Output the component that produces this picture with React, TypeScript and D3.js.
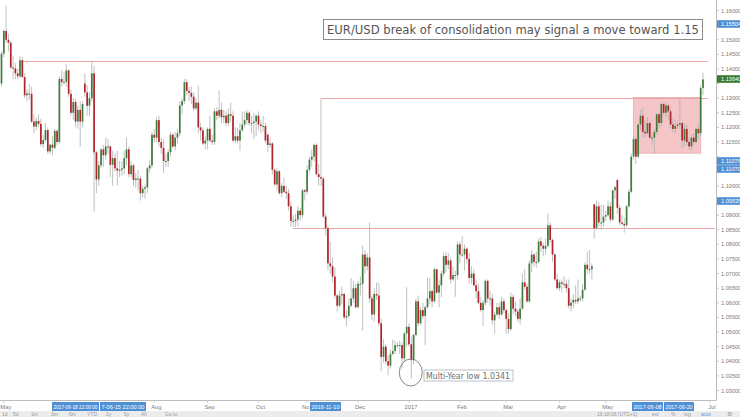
import React from 'react';
import * as d3 from 'd3';

// ---- data (daily EUR/USD candles, 2016-04-29 .. 2017-06-28, weekdays) ----
const startDate = new Date(2016, 3, 29);

const opens = [
  1.1350,
  1.1452,1.1530,1.1500,1.1490,1.1405,1.1402,1.1385,1.1375,1.1430,1.1372,1.1310,1.1316,1.1315,1.1220,1.1203,1.1222,1.1212,1.1143,1.1157,1.1191,1.1118,1.1141,
  1.1130,1.1188,1.1150,1.1366,1.1355,1.1356,1.1395,1.1315,1.1250,1.1287,1.1220,1.1260,1.1220,1.1350,1.1320,1.1274,1.1300,1.1385,1.1115,1.1022,1.1070,1.1125,
  1.1105,1.1135,1.1135,1.1072,1.1095,1.1060,1.1052,1.1055,1.1060,1.1095,1.1125,1.1040,1.1070,1.1020,1.1025,1.1025,1.0975,1.0990,1.0995,1.1060,1.1070,
  1.1175,1.1165,1.1225,1.1150,1.1130,1.1085,1.1085,1.1115,1.1175,1.1135,1.1165,1.1180,1.1275,1.1290,1.1355,1.1325,1.1318,1.1305,1.1265,1.1285,1.1200,1.1190,1.1145,
  1.1155,1.1195,1.1155,1.1150,1.1255,1.1240,1.1260,1.1235,1.1240,1.1215,1.1245,1.1240,1.1155,1.1170,1.1155,1.1190,1.1210,1.1225,1.1250,1.1215,1.1215,1.1220,
  1.1240,1.1210,1.1205,1.1205,1.1175,1.1140,1.1145,1.1055,1.1005,1.1050,1.0975,1.1000,1.0980,1.0975,1.0930,1.0880,1.0880,1.0885,1.0915,1.0900,1.0985,
  1.0980,1.1055,1.1090,1.1100,1.1140,1.1040,1.1030,1.1025,1.0895,1.0855,1.0735,1.0725,1.0690,1.0625,1.0590,1.0625,1.0630,1.0550,1.0555,1.0590,1.0615,1.0650,
  1.0585,1.0665,1.0665,1.0765,1.0725,1.0755,1.0615,1.0560,1.0630,1.0625,1.0530,1.0415,1.0450,1.0400,1.0385,1.0425,1.0435,1.0455,1.0455,1.0455,1.0410,1.0495,
  1.0518,1.0458,1.0405,1.0490,1.0605,1.0530,1.0575,1.0555,1.0585,1.0615,1.0640,1.0605,1.0715,1.0635,1.0660,1.0700,1.0760,1.0730,1.0745,1.0680,1.0695,1.0695,
  1.0800,1.0765,1.0765,1.0785,1.0750,1.0685,1.0700,1.0660,1.0640,1.0600,1.0575,1.0600,1.0675,1.0615,1.0615,1.0540,1.0560,1.0585,1.0560,1.0605,
  1.0575,1.0545,1.0510,1.0620,1.0580,1.0570,1.0545,1.0580,1.0670,1.0655,1.0605,1.0735,1.0765,1.0740,1.0740,1.0810,1.0795,1.0785,1.0795,1.0865,1.0815,1.0765,1.0680,
  1.0650,1.0670,1.0665,1.0665,1.0650,1.0590,1.0600,1.0610,1.0605,1.0615,1.0615,1.0645,1.0730,1.0715,1.0715,1.0937,1.0855,1.0930,1.0875,1.0875,
  1.0895,1.0900,1.0930,1.0885,1.0985,1.1020,1.0925,1.0875,1.0870,1.0865,1.0930,1.0980,1.1100,1.1160,1.1100,1.1210,1.1240,1.1185,1.1180,1.1215,1.1165,1.1165,1.1185,
  1.1245,1.1215,1.1280,1.1250,1.1275,1.1255,1.1210,1.1195,1.1205,1.1210,1.1215,1.1155,1.1195,1.1150,1.1135,1.1165,1.1150,1.1195,1.1180,1.1335,
];

const highs = [
  1.1460,
  1.1536,1.1616,1.1520,1.1495,1.1445,1.1420,1.1400,1.1445,1.1440,1.1385,1.1330,1.1350,1.1340,1.1245,1.1235,1.1245,1.1230,1.1175,1.1215,1.1200,1.1145,1.1170,
  1.1195,1.1195,1.1374,1.1395,1.1390,1.1416,1.1400,1.1330,1.1300,1.1298,1.1275,1.1290,1.1290,1.1385,1.1345,1.1320,1.1427,1.1410,1.1120,1.1085,1.1130,1.1140,
  1.1165,1.1160,1.1140,1.1120,1.1110,1.1120,1.1085,1.1085,1.1120,1.1165,1.1135,1.1085,1.1075,1.1045,1.1055,1.1035,1.1000,1.1005,1.1065,1.1090,1.1185,
  1.1195,1.1235,1.1240,1.1165,1.1160,1.1110,1.1125,1.1185,1.1180,1.1185,1.1195,1.1290,1.1300,1.1366,1.1365,1.1340,1.1340,1.1320,1.1300,1.1342,1.1215,1.1200,1.1170,
  1.1200,1.1240,1.1175,1.1265,1.1270,1.1327,1.1285,1.1260,1.1255,1.1265,1.1285,1.1255,1.1200,1.1200,1.1215,1.1255,1.1255,1.1260,1.1255,1.1240,1.1250,1.1245,
  1.1255,1.1225,1.1240,1.1215,1.1180,1.1165,1.1150,1.1060,1.1060,1.1055,1.1010,1.1030,1.1000,1.0990,1.0945,1.0900,1.0905,1.0930,1.0925,1.0990,1.0990,
  1.1070,1.1100,1.1125,1.1145,1.1145,1.1075,1.1299,1.1030,1.0905,1.0865,1.0810,1.0755,1.0720,1.0630,1.0640,1.0655,1.0635,1.0575,1.0615,1.0685,1.0675,1.0665,
  1.0675,1.0690,1.0796,1.0780,1.0770,1.0875,1.0625,1.0650,1.0670,1.0668,1.0545,1.0475,1.0460,1.0420,1.0440,1.0475,1.0470,1.0465,1.0470,1.0465,1.0500,1.0653,
  1.0530,1.0485,1.0495,1.0615,1.0625,1.0585,1.0600,1.0590,1.0685,1.0685,1.0645,1.0720,1.0715,1.0680,1.0710,1.0775,1.0775,1.0770,1.0755,1.0725,1.0710,1.0810,
  1.0810,1.0829,1.0800,1.0790,1.0770,1.0725,1.0715,1.0680,1.0665,1.0620,1.0610,1.0680,1.0680,1.0640,1.0630,1.0570,1.0600,1.0600,1.0620,1.0615,
  1.0580,1.0565,1.0635,1.0630,1.0605,1.0580,1.0615,1.0700,1.0715,1.0665,1.0745,1.0780,1.0770,1.0775,1.0820,1.0825,1.0805,1.0820,1.0906,1.0875,1.0820,1.0770,1.0700,
  1.0680,1.0680,1.0690,1.0680,1.0680,1.0615,1.0630,1.0660,1.0680,1.0625,1.0665,1.0738,1.0775,1.0780,1.0735,1.0937,1.0950,1.0945,1.0935,1.0935,
  1.0915,1.0950,1.0945,1.0985,1.1000,1.1024,1.0935,1.0900,1.0890,1.0935,1.0990,1.1110,1.1172,1.1165,1.1210,1.1260,1.1268,1.1225,1.1235,1.1220,1.1175,1.1195,1.1250,
  1.1255,1.1285,1.1285,1.1285,1.1280,1.1270,1.1230,1.1225,1.1225,1.1296,1.1220,1.1215,1.1210,1.1165,1.1175,1.1180,1.1200,1.1210,1.1345,1.1388,
];

const lows = [
  1.1340,
  1.1440,1.1490,1.1460,1.1400,1.1365,1.1365,1.1365,1.1370,1.1370,1.1300,1.1290,1.1295,1.1215,1.1180,1.1190,1.1200,1.1135,1.1130,1.1150,1.1110,1.1110,1.1105,
  1.1125,1.1140,1.1145,1.1340,1.1345,1.1340,1.1305,1.1240,1.1225,1.1200,1.1195,1.1133,1.1200,1.1305,1.1240,1.1240,1.1290,1.0912,1.0975,1.1000,1.1060,1.1065,
  1.1090,1.1110,1.1030,1.1000,1.1050,1.1000,1.1030,1.1035,1.1040,1.1070,1.1030,1.1030,1.1000,1.0995,1.0985,1.0950,1.0960,1.0955,1.0975,1.1045,1.1060,
  1.1150,1.1150,1.1135,1.1110,1.1045,1.1065,1.1065,1.1100,1.1130,1.1120,1.1145,1.1170,1.1245,1.1280,1.1310,1.1290,1.1280,1.1255,1.1260,1.1180,1.1155,1.1140,1.1125,
  1.1125,1.1150,1.1140,1.1140,1.1225,1.1230,1.1215,1.1215,1.1205,1.1205,1.1220,1.1150,1.1145,1.1145,1.1120,1.1185,1.1200,1.1210,1.1205,1.1180,1.1160,1.1170,
  1.1190,1.1180,1.1185,1.1145,1.1115,1.1130,1.1040,1.1000,1.0985,1.0970,1.0960,1.0975,1.0955,1.0915,1.0860,1.0860,1.0860,1.0860,1.0880,1.0890,1.0950,
  1.0970,1.1045,1.1065,1.1085,1.1035,1.1000,1.1000,1.0890,1.0830,1.0710,1.0700,1.0670,1.0615,1.0570,1.0585,1.0595,1.0545,1.0520,1.0545,1.0585,1.0600,1.0580,
  1.0580,1.0625,1.0505,1.0700,1.0710,1.0600,1.0540,1.0535,1.0610,1.0520,1.0366,1.0395,1.0390,1.0352,1.0375,1.0420,1.0425,1.0445,1.0425,1.0375,1.0400,1.0450,
  1.0450,1.0341,1.0390,1.0485,1.0520,1.0525,1.0545,1.0455,1.0580,1.0595,1.0585,1.0600,1.0630,1.0585,1.0620,1.0690,1.0705,1.0715,1.0665,1.0675,1.0620,1.0680,
  1.0735,1.0755,1.0710,1.0735,1.0665,1.0665,1.0655,1.0615,1.0595,1.0570,1.0520,1.0590,1.0600,1.0590,1.0525,1.0494,1.0555,1.0545,1.0555,1.0565,
  1.0495,1.0495,1.0505,1.0560,1.0555,1.0535,1.0525,1.0575,1.0645,1.0600,1.0600,1.0705,1.0725,1.0720,1.0735,1.0775,1.0760,1.0765,1.0790,1.0805,1.0740,1.0675,1.0645,
  1.0640,1.0635,1.0650,1.0635,1.0580,1.0570,1.0580,1.0595,1.0595,1.0605,1.0605,1.0640,1.0700,1.0700,1.0680,1.0820,1.0850,1.0860,1.0850,1.0860,
  1.0880,1.0895,1.0875,1.0880,1.0955,1.0905,1.0865,1.0865,1.0840,1.0860,1.0925,1.0975,1.1090,1.1075,1.1095,1.1190,1.1165,1.1165,1.1175,1.1160,1.1140,1.1110,1.1175,
  1.1200,1.1205,1.1240,1.1235,1.1225,1.1195,1.1185,1.1180,1.1195,1.1195,1.1130,1.1135,1.1140,1.1125,1.1120,1.1140,1.1145,1.1160,1.1170,1.1310,
];

const closes = [
  1.1452,
  1.1530,1.1500,1.1490,1.1405,1.1402,1.1385,1.1375,1.1430,1.1372,1.1310,1.1316,1.1315,1.1220,1.1203,1.1222,1.1212,1.1143,1.1157,1.1191,1.1118,1.1141,1.1130,
  1.1188,1.1150,1.1366,1.1355,1.1356,1.1395,1.1315,1.1250,1.1287,1.1220,1.1260,1.1220,1.1280,1.1320,1.1274,1.1300,1.1385,1.1115,1.1022,1.1070,1.1125,1.1105,
  1.1135,1.1135,1.1072,1.1095,1.1060,1.1052,1.1055,1.1060,1.1095,1.1125,1.1040,1.1070,1.1020,1.1025,1.1025,1.0975,1.0990,1.0995,1.1060,1.1070,1.1175,
  1.1165,1.1225,1.1150,1.1130,1.1085,1.1085,1.1115,1.1175,1.1135,1.1165,1.1180,1.1275,1.1290,1.1355,1.1325,1.1318,1.1305,1.1265,1.1285,1.1200,1.1190,1.1145,1.1155,
  1.1195,1.1155,1.1150,1.1255,1.1240,1.1260,1.1235,1.1240,1.1215,1.1245,1.1240,1.1155,1.1170,1.1155,1.1190,1.1210,1.1225,1.1250,1.1215,1.1215,1.1220,1.1240,
  1.1210,1.1205,1.1205,1.1155,1.1140,1.1145,1.1055,1.1005,1.1050,1.0975,1.1000,1.0980,1.0975,1.0930,1.0880,1.0880,1.0885,1.0915,1.0900,1.0985,1.0980,
  1.1055,1.1090,1.1100,1.1140,1.1040,1.1030,1.1025,1.0895,1.0855,1.0735,1.0725,1.0690,1.0625,1.0590,1.0625,1.0630,1.0550,1.0555,1.0590,1.0615,1.0650,1.0585,
  1.0665,1.0665,1.0765,1.0725,1.0755,1.0615,1.0560,1.0630,1.0625,1.0530,1.0415,1.0450,1.0400,1.0385,1.0425,1.0435,1.0455,1.0455,1.0455,1.0410,1.0495,1.0518,
  1.0458,1.0405,1.0490,1.0605,1.0530,1.0575,1.0555,1.0585,1.0615,1.0640,1.0605,1.0715,1.0635,1.0660,1.0700,1.0760,1.0730,1.0745,1.0680,1.0695,1.0695,1.0800,
  1.0765,1.0765,1.0785,1.0750,1.0685,1.0700,1.0660,1.0640,1.0600,1.0575,1.0600,1.0675,1.0615,1.0615,1.0540,1.0560,1.0585,1.0560,1.0605,1.0575,
  1.0545,1.0510,1.0620,1.0580,1.0570,1.0545,1.0580,1.0670,1.0655,1.0605,1.0735,1.0765,1.0740,1.0740,1.0810,1.0795,1.0785,1.0795,1.0865,1.0815,1.0765,1.0680,1.0650,
  1.0670,1.0665,1.0665,1.0650,1.0590,1.0600,1.0610,1.0605,1.0615,1.0615,1.0645,1.0730,1.0715,1.0715,1.0725,1.0855,1.0930,1.0875,1.0875,1.0895,
  1.0900,1.0930,1.0885,1.0985,1.0995,1.0925,1.0875,1.0870,1.0865,1.0930,1.0980,1.1100,1.1160,1.1100,1.1210,1.1240,1.1185,1.1180,1.1215,1.1165,1.1165,1.1185,1.1245,
  1.1215,1.1280,1.1250,1.1275,1.1255,1.1210,1.1195,1.1205,1.1210,1.1215,1.1155,1.1195,1.1150,1.1135,1.1165,1.1150,1.1195,1.1180,1.1335,1.1364,
];

const yTickValues = [
  1.03, 1.035, 1.04, 1.045, 1.05, 1.055, 1.06, 1.065, 1.07, 1.075, 1.08, 1.085, 1.09,
  1.095, 1.1, 1.105, 1.11, 1.115, 1.12, 1.125, 1.13, 1.135, 1.14, 1.145, 1.15, 1.155, 1.16,
];

// drawn levels: price, start index, end index
const levelPrices = [1.1427, 1.1299, 1.0856];
const levelStarts = [8, 138, 126];
const levelEnds = [305, 305, 308];

// consolidation box
const boxStartIndex = 273;
const boxEndIndex = 302;
const boxTop = 1.1302;
const boxBottom = 1.1112;

const titleText = 'EUR/USD break of consolidation may signal a move toward 1.15';
const lowText = 'Multi-Year low 1.0341';
const lowIndex = 177;
const lowPrice = 1.0341;

// axis highlight labels (crosshair / marker labels)
const yMarkerTexts = ['1.15504', '1.13640', '1.11076', '1.11070', '1.09535'];
const yMarkerYs = [24, 79, 161, 169, 201];
const yMarkerColors = ['#4f8fd6', '#3d7a2c', '#4f8fd6', '#4f8fd6', '#4f8fd6'];

const xMarkerTexts = ['2017-06-18 22:00:00', '7-06-15 22:00:00', '2016-11-10', '2017-06-08', '2017-06-20'];
const xMarkerXs = [52, 100, 310, 632, 664];
const xMarkerWs = [47, 46, 31, 31, 30];

const rangeButtons = ['1d', '5d', '1m', '3m', '6m', 'YTD', '1y', '5y', 'All', 'Go to'];
const rangeButtonXs = [2, 13, 31, 51, 69, 87, 106, 124, 141, 165];

const W = 740;
const H = 417;
const AXIS_X = 716;
const AXIS_Y = 400;

export default function App() {
  const n = Math.min(opens.length, highs.length, lows.length, closes.length);

  // weekday trading dates
  const allDays = d3.timeDay.range(startDate, new Date(2017, 6, 6));
  const tradingDays = allDays.filter((d) => d.getDay() !== 0 && d.getDay() !== 6);

  const x = d3.scaleLinear().domain([0, n - 1]).range([1.5, 703]);
  const y = d3.scaleLinear().domain([1.03, 1.16]).range([390.5, 10.5]);

  // month ticks: first trading day of each month
  const monthTicks: { i: number; label: string }[] = [{ i: 1, label: 'May' }];
  tradingDays.forEach((d, i) => {
    const prev = tradingDays[i - 1];
    if (i > 1 && prev.getMonth() !== d.getMonth()) {
      const label = d.getMonth() === 0 ? d3.timeFormat('%Y')(d) : d3.timeFormat('%b')(d);
      monthTicks.push({ i, label });
    }
  });

  const covered = (px: number) =>
    xMarkerXs.some((mx, k) => px > mx - 4 && px < mx + xMarkerWs[k] + 4);

  const candles = d3.range(n).map((i) => ({
    i,
    o: opens[i],
    h: highs[i],
    l: lows[i],
    c: closes[i],
  }));

  const bodyW = 1.7;
  const green = '#3e7d3c';
  const red = '#b3232b';
  const labelFont = 'Liberation Sans, Arial, sans-serif';

  return (
    <svg
      width={W}
      height={H}
      style={{ position: 'absolute', left: 0, top: 0, background: '#fff' }}
      xmlns="http://www.w3.org/2000/svg"
    >
      <rect x={0} y={0} width={W} height={H} fill="#ffffff" />

      {/* consolidation box */}
      <rect
        x={x(boxStartIndex)}
        y={y(boxTop)}
        width={x(boxEndIndex) - x(boxStartIndex)}
        height={y(boxBottom) - y(boxTop)}
        fill="#f4c6c8"
        stroke="#eaa9ac"
        strokeWidth={0.8}
      />

      {/* levels */}
      {levelPrices.map((p, k) => (
        <line
          key={'lv' + k}
          x1={x(levelStarts[k])}
          x2={Math.min(x(levelEnds[k]), AXIS_X - 1)}
          y1={Math.round(y(p)) + 0.5}
          y2={Math.round(y(p)) + 0.5}
          stroke="#eba3a5"
          strokeWidth={1}
        />
      ))}

      {/* candles */}
      <g>
        {candles.map((d) => {
          const cx = x(d.i);
          const up = d.c >= d.o;
          const top = y(Math.max(d.o, d.c));
          const bot = y(Math.min(d.o, d.c));
          return (
            <g key={'c' + d.i}>
              <line x1={cx} x2={cx} y1={y(d.h)} y2={y(d.l)} stroke="#b0b0b0" strokeWidth={0.8} />
              <rect
                x={cx - bodyW / 2}
                y={top}
                width={bodyW}
                height={Math.max(1, bot - top)}
                fill={up ? green : red}
              />
            </g>
          );
        })}
      </g>

      {/* right axis */}
      <line x1={AXIS_X + 0.5} x2={AXIS_X + 0.5} y1={0} y2={AXIS_Y} stroke="#bdbdbd" strokeWidth={1} />
      {yTickValues.map((v) => {
        const ty = y(v);
        const hidden = yMarkerYs.some((my) => Math.abs(my - ty) < 7);
        return (
          <g key={'yt' + v}>
            <line x1={AXIS_X} x2={AXIS_X + 3} y1={ty} y2={ty} stroke="#bdbdbd" strokeWidth={0.8} />
            {!hidden && (
              <text x={AXIS_X + 5} y={ty + 2} fontSize={5.6} fontFamily={labelFont} fill="#7a7a7a">
                {d3.format('.5f')(v)}
              </text>
            )}
          </g>
        );
      })}

      {/* bottom axis */}
      <line x1={0} x2={AXIS_X + 0.5} y1={AXIS_Y + 0.5} y2={AXIS_Y + 0.5} stroke="#bdbdbd" strokeWidth={1} />
      {monthTicks.map((t) => {
        const cx = x(t.i) + 2;
        const isNov = t.label === 'Nov';
        const hide = !isNov && covered(cx);
        return (
          <g key={'mt' + t.i + t.label}>
            <line x1={x(t.i)} x2={x(t.i)} y1={AXIS_Y} y2={AXIS_Y + 3} stroke="#c8c8c8" strokeWidth={0.8} />
            {!hide && (
              <text
                x={isNov ? 309.5 : cx}
                y={AXIS_Y + 9}
                fontSize={5.8}
                fontFamily={labelFont}
                fill="#7a7a7a"
                textAnchor={isNov ? 'end' : 'middle'}
              >
                {isNov ? 'No' : t.label}
              </text>
            )}
          </g>
        );
      })}

      {/* bottom toolbar */}
      <rect x={0} y={411} width={W} height={6} fill="#ececec" />
      {rangeButtons.map((b, k) => (
        <text key={'rb' + k} x={rangeButtonXs[k]} y={416.3} fontSize={5} fontFamily={labelFont} fill="#9a9a9a">
          {b}
        </text>
      ))}
      <text x={597} y={416.3} fontSize={5} fontFamily={labelFont} fill="#9a9a9a">16:18:06 (UTC+1)</text>
      <text x={652} y={416.3} fontSize={5} fontFamily={labelFont} fill="#9a9a9a">ext</text>
      <text x={671} y={416.3} fontSize={5} fontFamily={labelFont} fill="#9a9a9a">%</text>
      <text x={684} y={416.3} fontSize={5} fontFamily={labelFont} fill="#9a9a9a">log</text>
      <text x={701} y={416.3} fontSize={5} fontFamily={labelFont} fill="#5b9be0">auto</text>
      <text x={727} y={416.3} fontSize={5.5} fontFamily={labelFont} fill="#9a9a9a">⚙</text>

      {/* x-axis highlight labels */}
      {xMarkerTexts.map((t, k) => (
        <g key={'xm' + k}>
          <rect x={xMarkerXs[k]} y={402} width={xMarkerWs[k]} height={9} fill="#4f8fd6" />
          <text
            x={xMarkerXs[k] + 1.5}
            y={408.8}
            fontSize={5.4}
            fontFamily={labelFont}
            fill="#fff"
            textLength={xMarkerWs[k] - 3}
            lengthAdjust="spacingAndGlyphs"
          >
            {t}
          </text>
        </g>
      ))}

      {/* y-axis highlight labels */}
      {yMarkerTexts.map((t, k) => (
        <g key={'ym' + k}>
          <rect x={AXIS_X + 1} y={yMarkerYs[k] - 3.8} width={W - AXIS_X - 1} height={7.6} fill={yMarkerColors[k]} />
          <text x={AXIS_X + 5} y={yMarkerYs[k] + 2} fontSize={5.6} fontFamily={labelFont} fill="#ffffff">
            {t}
          </text>
        </g>
      ))}

      {/* multi-year low annotation */}
      <ellipse cx={x(lowIndex) - 0.5} cy={y(lowPrice) - 6} rx={11.5} ry={13.5} fill="none" stroke="#7c7c7c" strokeWidth={0.9} />
      <rect x={424} y={370} width={89} height={11} fill="#ffffff" stroke="#a9b3bf" strokeWidth={0.8} />
      <text x={426} y={378.8} fontSize={8.5} fontFamily="DejaVu Sans, Verdana, sans-serif" fill="#6f6f6f" textLength={84} lengthAdjust="spacingAndGlyphs">
        {lowText}
      </text>

      {/* title */}
      <rect x={323.5} y={19.5} width={379} height={20} fill="#ffffff" stroke="#8a8a8a" strokeWidth={1} />
      <text
        x={327}
        y={34}
        fontSize={11.8}
        fontFamily="DejaVu Sans, Verdana, sans-serif"
        fill="#555"
        textLength={372}
        lengthAdjust="spacingAndGlyphs"
      >
        {titleText}
      </text>
    </svg>
  );
}
